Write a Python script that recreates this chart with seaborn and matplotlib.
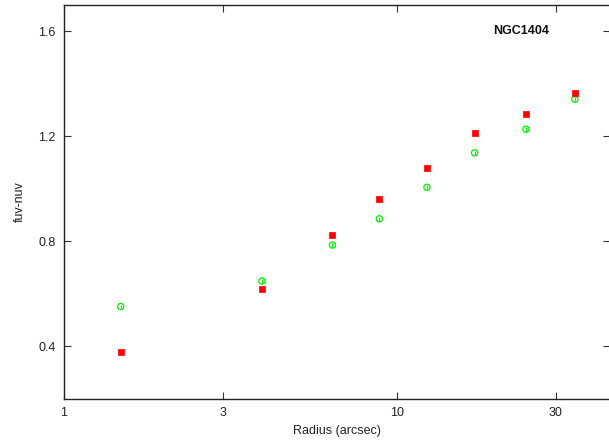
import matplotlib
matplotlib.use("Agg")
import matplotlib.pyplot as plt
import matplotlib.ticker as mticker
import seaborn as sns
import pandas as pd

radius = [1.48, 3.93, 6.40, 8.85, 12.3, 17.1, 24.4, 34.2]
red_vals = [0.378, 0.620, 0.826, 0.960, 1.081, 1.211, 1.284, 1.366]
green_vals = [0.552, 0.649, 0.786, 0.886, 1.006, 1.137, 1.227, 1.341]
green_err = [0.007, 0.007, 0.007, 0.007, 0.007, 0.007, 0.007, 0.007]
x_ticks = [1, 3, 10, 30]
x_ticklabels = ["1", "3", "10", "30"]
y_ticks = [0.4, 0.8, 1.2, 1.6]
y_ticklabels = ["0.4", "0.8", "1.2", "1.6"]

sns.set_style("white")
plt.rcParams['font.family'] = ['Liberation Sans', 'DejaVu Sans']

df_red = pd.DataFrame({"radius": radius, "color": red_vals})
df_green = pd.DataFrame({"radius": radius, "color": green_vals})

fig = plt.figure(figsize=(6.09, 4.41), dpi=100)
ax = fig.add_axes([64/609, 1 - 399/441, (610-64)/609, (399-5)/441])

ax.errorbar(radius, green_vals, yerr=green_err, fmt='none', ecolor='#00ee00',
            elinewidth=0.8, capsize=0, zorder=2)
sns.scatterplot(data=df_green, x="radius", y="color", ax=ax, marker='o',
                s=20, facecolor='none', edgecolor='#00ee00', linewidth=0.9, zorder=3)
sns.scatterplot(data=df_red, x="radius", y="color", ax=ax, marker='s',
                s=15, color='#ff0000', edgecolor='#ff0000', linewidth=0.5, zorder=4)

ax.set_xscale('log')
ax.set_xlim(1, 10 ** ((610 - 64) / 333))
ax.set_ylim(0.2, 1.7)
ax.set_xticks(x_ticks)
ax.set_xticklabels(x_ticklabels)
ax.xaxis.set_minor_locator(mticker.NullLocator())
ax.set_yticks(y_ticks)
ax.set_yticklabels(y_ticklabels)

for side in ['left', 'bottom', 'top']:
    ax.spines[side].set_color('#222222')
    ax.spines[side].set_linewidth(1.0)
ax.spines['right'].set_visible(False)

ax.tick_params(axis='both', which='major', direction='in', length=5, width=0.8,
               color='#333333', labelsize=9, labelcolor='#222222',
               top=True, right=True, bottom=True, left=True, pad=6)

ax.set_xlabel("Radius (arcsec)", fontsize=9, color='#222222', labelpad=4)
ax.set_ylabel("fuv-nuv", fontsize=9, color='#222222', labelpad=9)

ax.text(0.837, 0.933, "NGC1404", transform=ax.transAxes, fontsize=9,
        fontweight='bold', ha='center', va='center', color='#111111')

fig.savefig("out.png", dpi=100)
